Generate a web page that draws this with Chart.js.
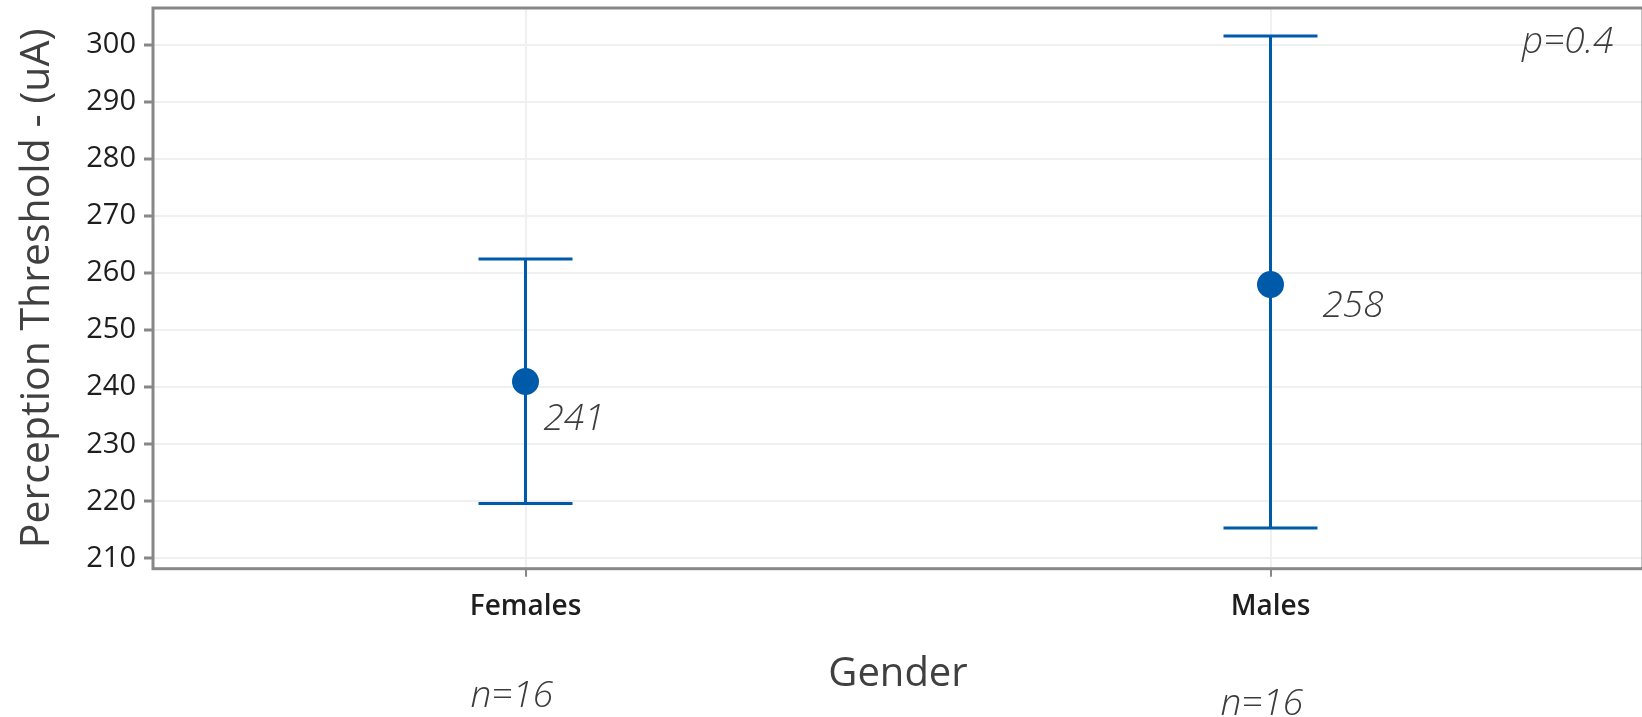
<!DOCTYPE html>
<html>
<head>
<meta charset="utf-8">
<style>
  html, body { margin: 0; padding: 0; background: #ffffff; overflow: hidden; }
  #wrap { width: 1644px; height: 717px; }
</style>
<script src="https://cdn.jsdelivr.net/npm/chart.js@4.4.1/dist/chart.umd.min.js"></script>
</head>
<body>
<div id="wrap"><canvas id="chart" width="1644" height="717"></canvas></div>
<script>
// Interval plot: mean perception threshold with 95% CI per gender
const groups = ['Females', 'Males'];
const means = [241, 258];
const lowerCI = [219.6, 215.3];
const upperCI = [262.5, 301.6];
const sampleSizes = [16, 16];
const pValue = 0.4;
const yTickValues = [210, 220, 230, 240, 250, 260, 270, 280, 290, 300];

const BLUE = '#005AAA';
const FRAME = '#878787';
const FONT = '"Open Sans", "Noto Sans", sans-serif';

// keep the plot area fixed: no extra room reserved for edge tick labels
function noEdgePadding(scale) {
  scale.paddingTop = 0;
  scale.paddingBottom = 0;
  scale.paddingLeft = 0;
  scale.paddingRight = 0;
}

// error bars, frame and annotation text
const intervalPlugin = {
  id: 'intervalPlot',
  beforeDatasetsDraw(chart, args, opts) {
    const { ctx, chartArea: a, scales: { x, y } } = chart;
    ctx.save();
    // plot frame
    ctx.strokeStyle = FRAME;
    ctx.lineWidth = 3;
    ctx.strokeRect(a.left, a.top, a.right - a.left, a.bottom - a.top);
    // confidence intervals
    ctx.strokeStyle = BLUE;
    ctx.lineWidth = 3;
    groups.forEach((g, i) => {
      const cx = x.getPixelForValue(i);
      const yl = y.getPixelForValue(lowerCI[i]);
      const yh = y.getPixelForValue(upperCI[i]);
      const hw = opts.capHalfWidth;
      ctx.beginPath();
      ctx.moveTo(cx, yh); ctx.lineTo(cx, yl);
      ctx.moveTo(cx - hw, yh); ctx.lineTo(cx + hw, yh);
      ctx.moveTo(cx - hw, yl); ctx.lineTo(cx + hw, yl);
      ctx.stroke();
    });
    ctx.restore();
  },
  afterDatasetsDraw(chart, args, opts) {
    const { ctx, chartArea: a, scales: { x, y } } = chart;
    const drawItalic = (text, px, py, size) => {
      ctx.save();
      ctx.font = 'italic 300 ' + size + 'px ' + FONT;
      ctx.fillStyle = '#3c3c3c';
      ctx.textAlign = 'left';
      ctx.textBaseline = 'alphabetic';
      ctx.fillText(text, px, py);
      ctx.restore();
    };
    // mean value labels
    groups.forEach((g, i) => {
      const off = opts.meanLabelOffsets[i];
      const px = x.getPixelForValue(i) + off[0];
      const py = y.getPixelForValue(means[i]) + off[1];
      drawItalic(String(Math.round(means[i])), px, py, 37);
    });
    // sample sizes under the category labels
    groups.forEach((g, i) => {
      const off = opts.nLabelOffsets[i];
      drawItalic('n=' + sampleSizes[i], x.getPixelForValue(i) + off[0], off[1], 37);
    });
    // p-value in the top right corner
    drawItalic('p=' + pValue, a.right - 121, a.top + 45, 37);
  }
};

const chart = new Chart(document.getElementById('chart'), {
  type: 'line',
  data: {
    labels: groups,
    datasets: [{
      data: means,
      showLine: false,
      pointRadius: 13.5,
      pointHoverRadius: 13.5,
      pointBackgroundColor: BLUE,
      pointBorderWidth: 0
    }]
  },
  plugins: [intervalPlugin],
  options: {
    responsive: false,
    animation: false,
    devicePixelRatio: 1,
    layout: { autoPadding: false, padding: { top: 8, right: 1, left: 0, bottom: 0 } },
    plugins: {
      legend: { display: false },
      tooltip: { enabled: false },
      intervalPlot: {
        capHalfWidth: 47,
        meanLabelOffsets: [[18, 48], [52, 32]],
        nLabelOffsets: [[-55, 707], [-50, 715]]
      }
    },
    scales: {
      x: {
        type: 'category',
        offset: true,
        border: { display: false },
        grid: { color: '#f0f0f0', lineWidth: 2, tickColor: '#888888', tickLength: 8, tickWidth: 2 },
        ticks: { color: '#1e1e1e', padding: 14, font: { family: FONT, size: 28, weight: 600 } },
        title: { display: true, text: 'Gender', color: '#404040', padding: { top: 0, bottom: 18 }, font: { family: FONT, size: 40 } },
        afterFit(scale) { noEdgePadding(scale); scale.height = 148.3; }
      },
      y: {
        min: 208.18,
        max: 306.49,
        afterBuildTicks(scale) { scale.ticks = yTickValues.map(v => ({ value: v })); },
        border: { display: false },
        grid: { color: '#f0f0f0', lineWidth: 2, tickColor: '#888888', tickLength: 9, tickWidth: 3 },
        ticks: { color: '#1e1e1e', padding: 8, font: { family: FONT, size: 29, weight: 500 } },
        title: { display: true, text: 'Perception Threshold - (uA)', color: '#404040', padding: { top: 13, bottom: 0 }, font: { family: FONT, size: 41 } },
        afterFit(scale) { noEdgePadding(scale); scale.width = 153; }
      }
    }
  }
});
</script>
</body>
</html>
